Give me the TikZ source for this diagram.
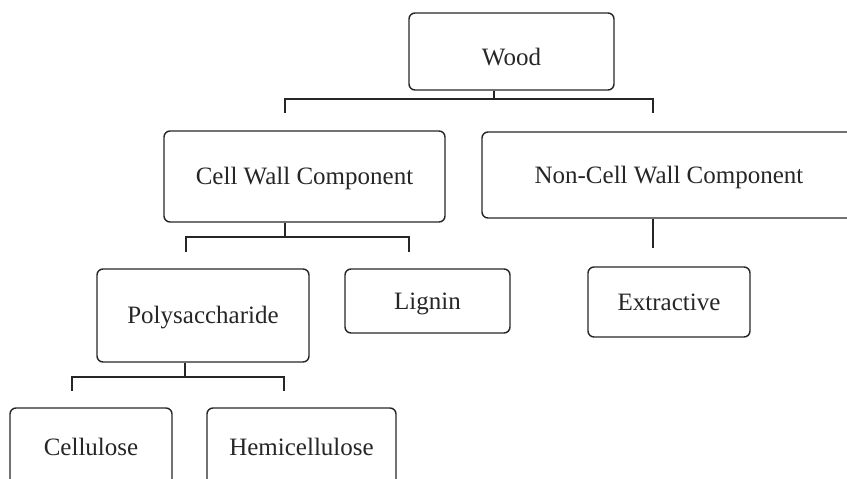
\documentclass[tikz,border=0pt]{standalone}
\usepackage{fontspec}
\setmainfont{Liberation Serif}
\usepackage{tikz}

\begin{document}
\begin{tikzpicture}[x=1pt, y=-1pt,
		part/.style={draw=black!85, line width=1.4pt, rounded corners=6pt, inner sep=0pt, text=black!85, text height=16pt, text depth=0pt},
		link/.style={draw=black!85, line width=1.4pt},
		font=\fontsize{25}{28}\selectfont]
			\useasboundingbox (0, 0) rectangle (847, 479);
			\clip (0, 0) rectangle (847, 479);

			\draw (511.5, 51.5) 	node[part, minimum width=205pt, minimum height=77pt, text height=27pt] 	(wood) 		{Wood};
			\draw (304.5, 176.5) 	node[part, minimum width=281pt, minimum height=91pt] 	(cellwall) 	{Cell Wall Component};
			\draw (669, 175) 		node[part, minimum width=374pt, minimum height=86pt] 	(noncell) 	{Non-Cell Wall Component};
			\draw (203, 315.5) 		node[part, minimum width=212pt, minimum height=93pt] 	(poly) 		{Polysaccharide};
			\draw (427.5, 301) 		node[part, minimum width=165pt, minimum height=64pt] 	(lignin) 	{Lignin};
			\draw (669, 302) 		node[part, minimum width=162pt, minimum height=70pt] 	(extract) 	{Extractive};
			\draw (91, 447) 		node[part, minimum width=162pt, minimum height=78pt] 	(cellulose) {Cellulose};
			\draw (301.5, 447) 		node[part, minimum width=189pt, minimum height=78pt] 	(hemi) 		{Hemicellulose};

			% bracket joints and leg ends
			\coordinate (wood_j) at (494, 99);
			\coordinate (wood_l) at (285, 113);
			\coordinate (wood_r) at (653, 113);
			\coordinate (cw_j) at (285, 237);
			\coordinate (cw_l) at (186, 252);
			\coordinate (cw_r) at (409, 252);
			\coordinate (poly_j) at (185, 377);
			\coordinate (poly_l) at (72, 391);
			\coordinate (poly_r) at (284, 391);
			\coordinate (nc_e) at (653, 248);

			\draw[link] (wood.south -| wood_j) -- (wood_j);
			\draw[link] (wood_l) |- (wood_j) -| (wood_r);
			\draw[link] (cellwall.south -| cw_j) -- (cw_j);
			\draw[link] (cw_l) |- (cw_j) -| (cw_r);
			\draw[link] (poly.south -| poly_j) -- (poly_j);
			\draw[link] (poly_l) |- (poly_j) -| (poly_r);
			\draw[link] (noncell.south -| nc_e) -- (nc_e);
		\end{tikzpicture}
\end{document}
